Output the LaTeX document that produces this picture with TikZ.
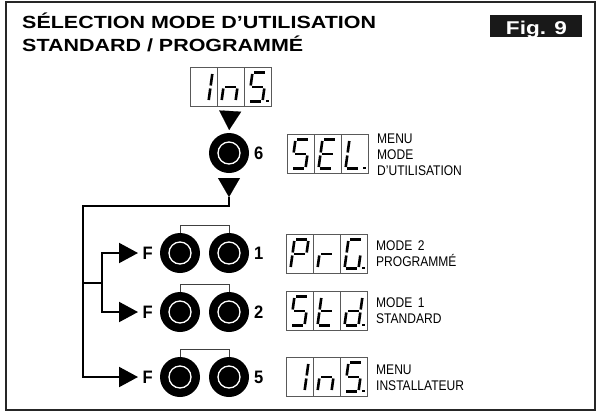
\documentclass[tikz,border=0pt]{standalone}
\usepackage{fontspec}
\setmainfont{Liberation Sans}
\newfontfamily\titlef[FakeStretch=1.22]{Liberation Sans}
\newfontfamily\labf[FakeStretch=0.86]{Liberation Sans}
\newfontfamily\bnarrow[FakeStretch=0.92]{Liberation Sans}
\usetikzlibrary{arrows.meta}
\tikzset{
  seg/.style={line width=2.6pt, line cap=butt, shorten <=1.5pt, shorten >=1.5pt},
  disp/.style={draw=black!65, line width=1pt, minimum width=81pt, minimum height=39pt, inner sep=0pt, outer sep=0pt},
  cell/.style={draw=black!65, line width=1pt},
  button/.style={circle, fill=black, minimum size=40pt, inner sep=0pt, outer sep=0pt,
    path picture={\draw[white, line width=1.3pt] (path picture bounding box.center) circle (11pt);}},
  blab/.style={font=\bnarrow\bfseries\fontsize{18}{20}\selectfont, inner sep=0pt, anchor=west},
  slab/.style={font=\labf\fontsize{14}{16}\selectfont, inner sep=0pt, anchor=base west},
  conn/.style={line width=2pt, black},
  arr/.style={line width=2pt, -{Triangle[length=19pt, width=20pt]}},
  arrdown/.style={line width=0.1pt, -{Triangle[length=19pt, width=22pt]}},
  bracket/.style={line width=1pt, black!75},
}
\newcommand\dseg[1]{%
  \if a#1\draw[seg] (8.5,5.5) -- (22.5,5.5);\fi
  \if b#1\draw[seg] (22.5,5.5) -- (20.5,20);\fi
  \if c#1\draw[seg] (20.5,20) -- (18.5,34.5);\fi
  \if d#1\draw[seg] (4.5,34.5) -- (18.5,34.5);\fi
  \if e#1\draw[seg] (6.5,20) -- (4.5,34.5);\fi
  \if f#1\draw[seg] (8.5,5.5) -- (6.5,20);\fi
  \if g#1\draw[seg] (6.5,20) -- (20.5,20);\fi
  \if p#1\fill (22,32.5) rectangle (24.5,35);\fi
}
\newcommand\ddigit[2]{\begin{scope}[shift={(#1,0)}]\foreach \s in {#2}{\dseg{\s}}\end{scope}}
\newcommand\segdisplay[5]{%
  \node[disp] (#1) at #2 {};
  \begin{scope}[shift={(#1.north west)}]
    \draw[cell] (27,0) -- (27,39) (54,0) -- (54,39);
    \ddigit{0}{#3}\ddigit{27}{#4}\ddigit{54}{#5}
  \end{scope}}
\begin{document}
\begin{tikzpicture}[x=1pt, y=-1pt]
\useasboundingbox (0,0) rectangle (597,416);
\draw[line width=2pt, black!85] (6,2) rectangle (595,410);
% title
\node[anchor=base west, inner sep=0pt, font=\titlef\bfseries\fontsize{17.6}{20}\selectfont] (t1) at (22,28.5) {SÉLECTION MODE D’UTILISATION};
\node[anchor=base west, inner sep=0pt, font=\titlef\bfseries\fontsize{17.6}{20}\selectfont] (t2) at (22,51.5) {STANDARD / PROGRAMMÉ};
\node[fill=black!90, minimum width=92pt, minimum height=22pt, inner sep=0pt] (figbox) at (536,26) {};
\node[anchor=base, inner sep=0pt, text=white, font=\titlef\bfseries\fontsize{18.5}{20}\selectfont] (figt) at (536.5,34) {Fig. 9};
% displays
\segdisplay{insT}{(230.5,86.5)}{b,c}{c,e,g}{a,c,d,f,g,p}
\segdisplay{sel}{(327.5,153.5)}{a,c,d,f,g}{a,d,e,f,g}{d,e,f,p}
\segdisplay{prg}{(326.5,253.5)}{a,b,e,f,g}{e,g}{a,c,d,e,f,p}
\segdisplay{std}{(326.5,310.5)}{a,c,d,f,g}{d,e,f,g}{b,c,d,e,g,p}
\segdisplay{insB}{(326.5,376.5)}{b,c}{c,e,g}{a,c,d,f,g,p}
% display labels
\node[slab] (m1) at (377,143.3) {MENU};
\node[slab] (m2) at (377,159) {MODE};
\node[slab] (m3) at (377,175) {D’UTILISATION};
\node[slab] (p1) at (376,250) {MODE\, 2};
\node[slab] (p2) at (376,266.5) {PROGRAMMÉ};
\node[slab] (s1) at (376,307) {MODE\, 1};
\node[slab] (s2) at (376,323) {STANDARD};
\node[slab] (i1) at (376,374) {MENU};
\node[slab] (i2) at (376,390) {INSTALLATEUR};
% buttons
\node[button] (b6) at (229,153) {};
\node[blab] (l6) at (254,153) {6};
\node[button] (r1a) at (180,253) {};
\node[button] (r1b) at (229,253) {};
\node[button] (r2a) at (180,312) {};
\node[button] (r2b) at (229,312) {};
\node[button] (r3a) at (180,377) {};
\node[button] (r3b) at (229,377) {};
\node[blab] (l1) at (254,253) {1};
\node[blab] (l2) at (254,312) {2};
\node[blab] (l5) at (254,377) {5};
\node[blab] (F1) at (142.5,253) {F};
\node[blab] (F2) at (142.5,312) {F};
\node[blab] (F3) at (142.5,377) {F};
% brackets
\draw[bracket] (r1a.north) -- ++(0,-8) -| (r1b.north);
\draw[bracket] (r2a.north) -- ++(0,-8) -| (r2b.north);
\draw[bracket] (r3a.north) -- ++(0,-8) -| (r3b.north);
% down triangles
\coordinate (t2tip) at (229,197);
\draw[arrdown, shorten <=5pt, shorten >=3pt] (insT.south) -- (b6.north);
\draw[arrdown, shorten <=6pt] (b6.south) -- (t2tip);
% connectors
\coordinate (c1) at (229,206);
\coordinate (c2) at (83,206);
\coordinate (c3) at (83,283);
\coordinate (c4) at (102,283);
\draw[conn] (t2tip) -- (c1) -- (c2) -- (c3);
\draw[arr, shorten >=4.5pt] (c3) |- (F3.west);
\draw[conn] (c3) -- (c4);
\draw[arr, shorten >=4.5pt] (c4) |- (F1.west);
\draw[arr, shorten >=4.5pt] (c4) |- (F2.west);
\end{tikzpicture}
\end{document}
